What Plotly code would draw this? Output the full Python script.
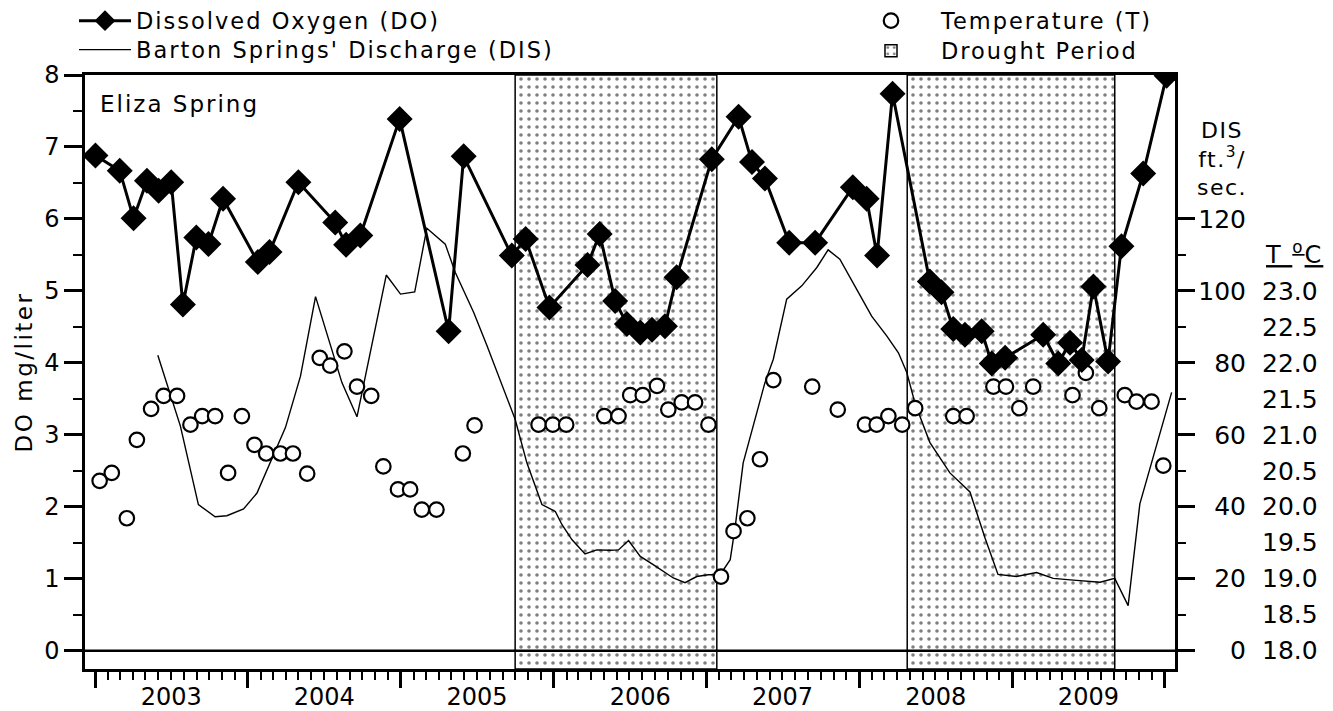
import plotly.graph_objects as go
import pandas as pd

# ---------------- data ----------------
do_dates = [
    "2003-01-02", "2003-03-01", "2003-04-03", "2003-05-05", "2003-06-02", "2003-07-02", "2003-07-30",
    "2003-08-31", "2003-09-29", "2003-11-03",
    "2004-01-25", "2004-02-22", "2004-05-01", "2004-07-28", "2004-08-23", "2004-09-26", "2004-12-29",
    "2005-04-25", "2005-05-31", "2005-09-23", "2005-10-26", "2005-12-22",
    "2006-03-23", "2006-04-21", "2006-05-28", "2006-06-25", "2006-07-27", "2006-08-24", "2006-09-24", "2006-10-22",
    "2007-01-14", "2007-03-19", "2007-04-20", "2007-05-21", "2007-07-18", "2007-09-18", "2007-12-17",
    "2008-01-19", "2008-02-13", "2008-03-21", "2008-06-18", "2008-07-16", "2008-08-13", "2008-09-10",
    "2008-10-20", "2008-11-13", "2008-12-15",
    "2009-03-16", "2009-04-21", "2009-05-19", "2009-06-16", "2009-07-14", "2009-08-18", "2009-09-19",
    "2009-11-10", "2010-01-05",
]
do_values = [
    6.88, 6.67, 6.01, 6.53, 6.39, 6.51, 4.81, 5.74, 5.65, 6.28,
    5.40, 5.54, 6.51, 5.95, 5.64, 5.77, 7.39,
    4.44, 6.87, 5.49, 5.72, 4.77,
    5.36, 5.79, 4.86, 4.54, 4.42, 4.46, 4.51, 5.19,
    6.83, 7.42, 6.79, 6.56, 5.67, 5.67, 6.44,
    6.28, 5.49, 7.74, 5.13, 4.98, 4.47, 4.39, 4.44, 3.99, 4.07,
    4.39, 3.99, 4.28, 4.04, 5.06, 4.02, 5.62, 6.63, 7.99,
]

t_dates = [
    "2003-01-12", "2003-02-10", "2003-03-18", "2003-04-11", "2003-05-15", "2003-06-14", "2003-07-16",
    "2003-08-17", "2003-09-14", "2003-10-15", "2003-11-15", "2003-12-18",
    "2004-01-17", "2004-02-14", "2004-03-19", "2004-04-18", "2004-05-22", "2004-06-21", "2004-07-16",
    "2004-08-19", "2004-09-18", "2004-10-22", "2004-11-20", "2004-12-25",
    "2005-01-23", "2005-02-20", "2005-03-27", "2005-05-29", "2005-06-26", "2005-11-26", "2005-12-30",
    "2006-01-31", "2006-05-02", "2006-06-05", "2006-07-03", "2006-08-02", "2006-09-05", "2006-10-02",
    "2006-11-03", "2006-12-05",
    "2007-01-06", "2007-02-05", "2007-03-07", "2007-04-09", "2007-05-09", "2007-06-10", "2007-09-11",
    "2007-11-11",
    "2008-01-15", "2008-02-12", "2008-03-11", "2008-04-13", "2008-05-14", "2008-08-13", "2008-09-14",
    "2008-11-17", "2008-12-17",
    "2009-01-18", "2009-02-20", "2009-05-25", "2009-06-26", "2009-07-28", "2009-09-27", "2009-10-25",
    "2009-11-30", "2009-12-28",
]
t_values = [
    20.36, 20.47, 19.84, 20.93, 21.36, 21.54, 21.54, 21.14, 21.26, 21.26, 20.47, 21.26,
    20.86, 20.74, 20.74, 20.74, 20.46, 22.07, 21.96, 22.16, 21.67, 21.54, 20.56, 20.24,
    20.24, 19.96, 19.96, 20.74, 21.13, 21.14, 21.14,
    21.14, 21.26, 21.26, 21.55, 21.55, 21.68, 21.35, 21.45, 21.45,
    21.14, 19.03, 19.66, 19.84, 20.66, 21.76, 21.67, 21.35,
    21.14, 21.14, 21.26, 21.14, 21.37, 21.26, 21.26, 21.67, 21.67,
    21.37, 21.67, 21.55, 21.86, 21.37, 21.55, 21.46, 21.46, 20.57,
]

dis_dates = [
    "2003-05-31", "2003-07-24", "2003-09-05", "2003-10-15", "2003-11-12", "2003-12-22",
    "2004-01-23", "2004-02-24", "2004-03-31", "2004-05-06", "2004-06-11", "2004-08-13", "2004-09-18",
    "2004-11-27", "2004-12-31",
    "2005-02-03", "2005-03-04", "2005-04-17", "2005-05-11", "2005-06-24", "2005-07-26", "2005-10-01",
    "2005-10-29", "2005-12-04",
    "2006-01-05", "2006-01-21", "2006-02-14", "2006-03-17", "2006-04-14", "2006-05-16", "2006-06-05",
    "2006-06-29", "2006-07-27", "2006-08-27", "2006-10-14", "2006-11-11", "2006-12-09",
    "2007-01-06", "2007-02-03", "2007-02-27", "2007-03-11", "2007-03-30", "2007-04-27", "2007-05-21",
    "2007-06-10", "2007-07-12", "2007-08-17", "2007-09-22", "2007-10-19", "2007-11-16", "2007-12-26",
    "2008-01-31", "2008-03-07", "2008-04-04", "2008-04-24", "2008-05-14", "2008-06-18", "2008-08-05",
    "2008-09-22", "2008-10-28", "2008-11-28",
    "2009-01-11", "2009-02-28", "2009-04-09", "2009-05-27", "2009-07-30", "2009-09-03", "2009-10-05",
    "2009-11-02", "2010-01-17",
]
dis_values = [
    82.1, 62.4, 40.6, 37.2, 37.5, 39.4,
    43.8, 52.2, 62.0, 76.3, 98.4, 74.5, 65.0, 104.4, 99.1,
    99.7, 117.4, 113.0, 105.1, 94.0, 84.7, 64.3, 52.2, 40.6,
    38.7, 35.0, 30.8, 26.9, 28.0, 27.9, 28.0, 30.6, 26.2, 23.9, 20.2, 18.9, 20.6,
    21.1, 21.1, 25.3, 34.5, 52.2, 64.3, 74.5, 81.0, 97.7, 101.4, 106.5, 111.4, 108.8, 100.5,
    93.0, 87.5, 82.8, 77.3, 68.6, 57.9, 49.4, 44.1, 31.3, 21.2,
    20.6, 21.7, 20.1, 19.6, 19.0, 20.1, 12.5, 40.8, 71.8,
]

drought_start = ["2005-10-01", "2008-04-25"]
drought_end = ["2007-01-26", "2009-09-03"]

year_tick_dates = ["2003-01-01", "2004-01-01", "2005-01-01", "2006-01-01",
                   "2007-01-01", "2008-01-01", "2009-01-01", "2010-01-01"]
year_label_dates = ["2003-07-02", "2004-07-02", "2005-07-02", "2006-07-27",
                    "2007-07-02", "2008-07-02", "2009-07-02"]
year_labels = ["2003", "2004", "2005", "2006", "2007", "2008", "2009"]

do_ticks = [0, 1, 2, 3, 4, 5, 6, 7, 8]
do_minor_ticks = [0.5, 1.5, 2.5, 3.5, 4.5, 5.5, 6.5, 7.5]
dis_ticks = [0, 20, 40, 60, 80, 100, 120]
dis_minor_ticks = [10, 30, 50, 70, 90, 110]
t_ticks = [18.0, 18.5, 19.0, 19.5, 20.0, 20.5, 21.0, 21.5, 22.0, 22.5, 23.0]

X_RANGE = ["2002-12-08", "2010-01-25"]
DO_RANGE = [-0.255, 8.0]
DIS_RANGE = [v * 20 for v in DO_RANGE]
T_RANGE = [v + 18 for v in DO_RANGE]

# ---------------- layout constants ----------------
FONT = "DejaVu Sans"
W, H = 1333, 711
ML, MR, MT, MB = 85, 10, 75, 42
PAPER_W = W - ML - MR
PLOT_H = H - MT - MB
X_DOM_END = (1175 - ML) / PAPER_W


def px_to_paper_x(px):
    return (px - ML) / PAPER_W


def py_to_paper_y(py):
    return 1 - (py - MT) / PLOT_H


def spaced(text, px=2):
    return '<span style="letter-spacing:%spx">%s</span>' % (px, text)


ds = pd.to_datetime(drought_start)
de = pd.to_datetime(drought_end)
drought_mid = ds + (de - ds) / 2
drought_width = [(b - a).total_seconds() * 1000 for a, b in zip(ds, de)]

fig = go.Figure()

fig.add_trace(go.Bar(
    x=drought_mid, y=[DO_RANGE[1] - DO_RANGE[0]] * len(drought_start), base=DO_RANGE[0],
    width=drought_width, name=spaced("Drought Period"),
    marker=dict(color="white", line=dict(color="black", width=1.5),
                pattern=dict(shape=".", fgcolor="black", bgcolor="white", size=8,
                             solidity=0.16, fillmode="overlay")),
    xaxis="x", yaxis="y", legend="legend4", hoverinfo="skip",
))

# helper (empty) traces so that the label-only axes are drawn
fig.add_trace(go.Scatter(x=year_label_dates, y=[None] * len(year_label_dates), mode="markers",
                         xaxis="x2", yaxis="y", showlegend=False, hoverinfo="skip"))
fig.add_trace(go.Scatter(x=[None], y=[None], mode="markers", xaxis="x", yaxis="y3",
                         showlegend=False, hoverinfo="skip"))

fig.add_trace(go.Scatter(
    x=dis_dates, y=dis_values, mode="lines", name=spaced("Barton Springs' Discharge (DIS)"),
    line=dict(color="black", width=1.4), xaxis="x", yaxis="y2", legend="legend2",
))

fig.add_trace(go.Scatter(
    x=t_dates, y=t_values, mode="markers", name=spaced("Temperature (T)"),
    marker=dict(symbol="circle", size=14.5, color="white", line=dict(color="black", width=2.2)),
    xaxis="x", yaxis="y4", legend="legend3",
))

fig.add_trace(go.Scatter(
    x=do_dates, y=do_values, mode="lines+markers", name=spaced("Dissolved Oxygen (DO)"),
    line=dict(color="black", width=3),
    marker=dict(symbol="diamond", size=20, color="black"),
    xaxis="x", yaxis="y5", legend="legend",
))

axis_common = dict(showgrid=False, zeroline=False)
LEG_FONT = dict(family=FONT, size=22.5)


def legend_at(px, py, itemwidth):
    return dict(x=px_to_paper_x(px), y=py_to_paper_y(py), xanchor="left", yanchor="middle",
                bgcolor="rgba(0,0,0,0)", font=LEG_FONT, itemwidth=itemwidth,
                borderwidth=0)


fig.update_layout(
    width=W, height=H,
    margin=dict(l=ML, r=MR, t=MT, b=MB, autoexpand=False),
    paper_bgcolor="white", plot_bgcolor="white",
    font=dict(family=FONT, size=24, color="black"),
    barmode="overlay",
    showlegend=True,
    xaxis=dict(
        **axis_common, domain=[0, X_DOM_END], type="date", range=X_RANGE,
        showline=True, linewidth=2.5, linecolor="black", mirror=True,
        ticks="outside", tickmode="array", tickvals=year_tick_dates, ticklen=16, tickwidth=2.5,
        tickcolor="black", showticklabels=False,
        minor=dict(ticks="outside", dtick="M1", tick0="2003-01-01", ticklen=8, tickwidth=2,
                   tickcolor="black", showgrid=False),
    ),
    xaxis2=dict(
        **axis_common, domain=[0, X_DOM_END], type="date", range=X_RANGE,
        overlaying="x", anchor="y", side="bottom", showline=False,
        ticks="outside", ticklen=6, tickcolor="rgba(0,0,0,0)",
        tickmode="array", tickvals=year_label_dates, ticktext=year_labels,
        tickfont=dict(family=FONT, size=24),
    ),
    yaxis=dict(
        **axis_common, range=DO_RANGE, showline=True, linewidth=2.5, linecolor="black", mirror=True,
        ticks="outside", tickmode="array", tickvals=do_ticks, ticklen=18, tickwidth=2.5,
        tickcolor="black", tickfont=dict(family=FONT, size=24),
        minor=dict(ticks="outside", tickmode="array", tickvals=do_minor_ticks, ticklen=9,
                   tickwidth=2, tickcolor="black", showgrid=False),
        title=dict(text=spaced("DO mg/liter", 2.5), font=dict(family=FONT, size=23), standoff=6),
    ),
    yaxis2=dict(
        **axis_common, range=DIS_RANGE, overlaying="y", side="right", anchor="x",
        showline=True, linewidth=2.5, linecolor="black",
        ticks="outside", tickmode="array", tickvals=dis_ticks, ticklen=17, tickwidth=2.5,
        tickcolor="black", showticklabels=False,
        minor=dict(ticks="outside", tickmode="array", tickvals=dis_minor_ticks, ticklen=8,
                   tickwidth=2, tickcolor="black", showgrid=False),
    ),
    yaxis3=dict(
        **axis_common, range=DIS_RANGE, overlaying="y", side="left", anchor="free",
        position=px_to_paper_x(1246), showline=False, ticks="",
        tickmode="array", tickvals=dis_ticks, tickfont=dict(family=FONT, size=25),
    ),
    yaxis4=dict(
        **axis_common, range=T_RANGE, overlaying="y", side="right", anchor="free",
        position=px_to_paper_x(1261), showline=False, ticks="",
        tickmode="array", tickvals=t_ticks, tickformat=".1f", tickfont=dict(family=FONT, size=25),
    ),
    yaxis5=dict(**axis_common, range=DO_RANGE, overlaying="y", anchor="x", visible=False),
    legend=legend_at(74, 21, 52),
    legend2=legend_at(74, 50, 52),
    legend3=legend_at(841, 21, 90),
    legend4=legend_at(841, 51, 90),
    shapes=[dict(type="line", xref="x domain", x0=0, x1=1, yref="y", y0=0, y1=0,
                 line=dict(color="black", width=2.5), layer="above")],
    annotations=[
        dict(text=spaced("Eliza Spring", 2), xref="x domain", x=0.012, yref="paper",
             y=py_to_paper_y(104), xanchor="left", yanchor="middle", showarrow=False,
             font=dict(family=FONT, size=23)),
        dict(text=spaced("DIS<br>ft.<sup>3</sup>/<br>sec.", 1.5), xref="paper",
             x=px_to_paper_x(1222), yref="paper", y=py_to_paper_y(159), xanchor="center",
             yanchor="middle", align="center", showarrow=False, font=dict(family=FONT, size=22)),
        dict(text=spaced("<u>T <sup>o</sup>C</u>", 2), xref="paper", x=px_to_paper_x(1294),
             yref="paper", y=py_to_paper_y(253), xanchor="center", yanchor="middle",
             showarrow=False, font=dict(family=FONT, size=24)),
    ],
)

fig.write_html("out.html", config={"displayModeBar": False},
               post_script="document.body.style.margin='0px';")
